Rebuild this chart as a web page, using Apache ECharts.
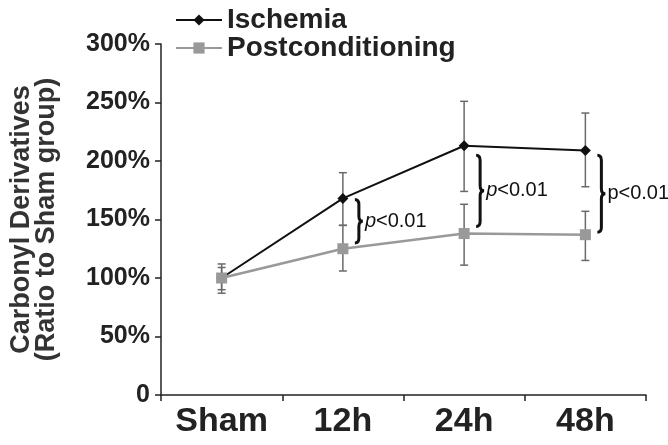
<!DOCTYPE html>
<html>
<head>
<meta charset="utf-8">
<script src="https://cdn.jsdelivr.net/npm/echarts@6/dist/echarts.min.js"></script>
<style>html,body{margin:0;padding:0;background:#fff;}#c{width:668px;height:445px;}</style>
</head>
<body>
<div id="c"></div>
<script>
const categories = ['Sham', '12h', '24h', '48h'];
const yTicks = [0, 50, 100, 150, 200, 250, 300];
const ischemia = [100, 168, 213, 209];
const ischemiaLow = [87, 145, 174, 178];
const ischemiaHigh = [112, 190, 251, 241];
const postcond = [100, 125, 138, 137];
const postcondLow = [90, 106, 111, 115];
const postcondHigh = [109, 145, 163, 157];
const braceCats = [1, 2, 3];
const braceTop = [167, 205, 205];
const braceBottom = [130, 144, 139];
const braceLabels = ['{i|p}<0.01', '{i|p}<0.01', 'p<0.01'];

const FONT = 'Liberation Sans, Arial, sans-serif';
const chart = echarts.init(document.getElementById('c'), null, {renderer: 'canvas'});

function errRender(params, api) {
  const x = api.value(0);
  const a = api.coord([x, api.value(1)]);
  const b = api.coord([x, api.value(2)]);
  const hw = 4;
  const st = {stroke: '#6a6a6a', lineWidth: 1.5};
  return {type: 'group', children: [
    {type: 'line', shape: {x1: a[0], y1: a[1], x2: b[0], y2: b[1]}, style: st},
    {type: 'line', shape: {x1: a[0] - hw, y1: a[1], x2: a[0] + hw, y2: a[1]}, style: st},
    {type: 'line', shape: {x1: b[0] - hw, y1: b[1], x2: b[0] + hw, y2: b[1]}, style: st}
  ]};
}

function braceRender(params, api) {
  const x = api.value(0);
  const t = api.coord([x, api.value(1)]);
  const b = api.coord([x, api.value(2)]);
  const bx = t[0] + 12, y1 = t[1], y2 = b[1], ym = (y1 + y2) / 2;
  const w = 8, r = 5, h = w / 2;
  const d = 'M' + bx + ',' + y1 +
    ' Q' + (bx + h) + ',' + y1 + ' ' + (bx + h) + ',' + (y1 + r) +
    ' L' + (bx + h) + ',' + (ym - r) +
    ' Q' + (bx + h) + ',' + ym + ' ' + (bx + w) + ',' + ym +
    ' Q' + (bx + h) + ',' + ym + ' ' + (bx + h) + ',' + (ym + r) +
    ' L' + (bx + h) + ',' + (y2 - r) +
    ' Q' + (bx + h) + ',' + y2 + ' ' + bx + ',' + y2;
  return {type: 'group', children: [
    {type: 'path', shape: {pathData: d}, style: {stroke: '#111', lineWidth: 3, fill: null}},
    {type: 'text', style: {
      text: braceLabels[params.dataIndex], x: bx + 10, y: ym,
      verticalAlign: 'middle', align: 'left',
      fontFamily: FONT, fontSize: 20, fill: '#111',
      rich: {i: {fontStyle: 'italic', fontFamily: FONT, fontSize: 20, fill: '#111'}}
    }}
  ]};
}

chart.setOption({
  backgroundColor: '#fff',
  animation: false,
  grid: {left: 158, right: 22, top: 44, bottom: 50, containLabel: false},
  legend: {
    orient: 'vertical', left: 170, top: 1, itemGap: 0,
    itemWidth: 46, itemHeight: 14,
    textStyle: {fontFamily: FONT, fontSize: 28, fontWeight: 'bold', color: '#222', lineHeight: 26},
    data: ['Ischemia', 'Postconditioning']
  },
  xAxis: {
    type: 'category', data: categories, boundaryGap: true,
    axisLine: {lineStyle: {color: '#222', width: 1.5}},
    axisTick: {show: true, length: 6, inside: false, lineStyle: {color: '#222', width: 1.5}},
    axisLabel: {fontFamily: FONT, fontSize: 34, fontWeight: 'bold', color: '#222', margin: 10}
  },
  yAxis: {
    type: 'value', min: 0, max: 300, interval: 50,
    name: 'Carbonyl Derivatives\n(Ratio to Sham group)',
    nameLocation: 'middle', nameRotate: 90, nameGap: 102,
    nameTextStyle: {fontFamily: FONT, fontSize: 27, fontWeight: 'bold', color: '#333', lineHeight: 25},
    axisLine: {show: true, lineStyle: {color: '#222', width: 1.5}},
    axisTick: {show: true, length: 6, lineStyle: {color: '#222', width: 1.5}},
    splitLine: {show: false},
    axisLabel: {fontFamily: FONT, fontSize: 25, fontWeight: 'bold', color: '#222', margin: 11,
      formatter: v => (v === 0 ? '0' : v + '%')}
  },
  series: [
    {type: 'custom', name: 'errI', renderItem: errRender, z: 1, silent: true,
      data: categories.map((c, i) => [i, ischemiaLow[i], ischemiaHigh[i]])},
    {type: 'custom', name: 'errP', renderItem: errRender, z: 1, silent: true,
      data: categories.map((c, i) => [i, postcondLow[i], postcondHigh[i]])},
    {type: 'line', name: 'Ischemia', data: ischemia, z: 3,
      symbol: 'diamond', symbolSize: 11, showSymbol: true,
      lineStyle: {color: '#111', width: 2}, itemStyle: {color: '#111'}},
    {type: 'line', name: 'Postconditioning', data: postcond, z: 4,
      symbol: 'rect', symbolSize: 11, showSymbol: true,
      lineStyle: {color: '#999', width: 2.5}, itemStyle: {color: '#999'}},
    {type: 'custom', name: 'braces', renderItem: braceRender, z: 5, silent: true,
      data: braceCats.map((c, i) => [c, braceTop[i], braceBottom[i]])}
  ]
});
</script>
</body>
</html>
